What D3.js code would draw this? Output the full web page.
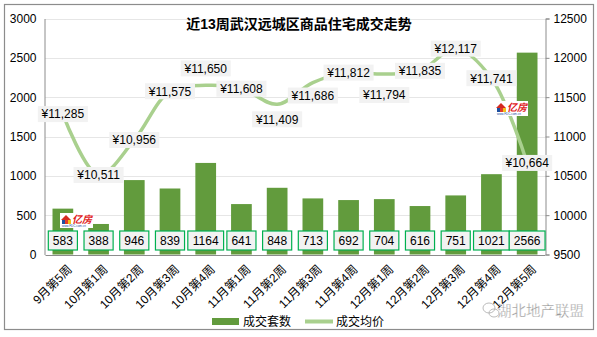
<!DOCTYPE html>
<html>
<head>
<meta charset="utf-8">
<script src="https://cdn.jsdelivr.net/npm/d3@7/dist/d3.min.js"></script>
<style>
  html, body { margin: 0; padding: 0; background: #fff; }
  svg text { font-family: "Liberation Sans", Arial, "Noto Sans CJK SC", sans-serif; }
</style>
</head>
<body>
<svg id="chart" width="597" height="337"></svg>
<script>
// Weekly transactions, Wuhan outer districts
const weeks = ["9月第5周", "10月第1周", "10月第2周", "10月第3周", "10月第4周", "11月第1周", "11月第2周",
               "11月第3周", "11月第4周", "12月第1周", "12月第2周", "12月第3周", "12月第4周", "12月第5周"];
const units = [583, 388, 946, 839, 1164, 641, 848, 713, 692, 704, 616, 751, 1021, 2566];
const prices = [11285, 10511, 10956, 11575, 11650, 11608, 11409, 11686, 11812, 11794, 11835, 12117, 11741, 10664];
const unitTicks = [0, 500, 1000, 1500, 2000, 2500, 3000];
const priceTicks = [9500, 10000, 10500, 11000, 11500, 12000, 12500];
// price label placement: shift in px relative to the point
const priceLabelShift = [0, 0, 0, 0, -17, 0, 15, 13, 0, 21, 0, 0, 0, 0];

const barColor = "#629b3d";
const lineColor = "#a9d08e";
const svg = d3.select("#chart");

// outer frame
svg.append("rect").attr("x", 4.5).attr("y", 4.5).attr("width", 589).attr("height", 325)
  .attr("fill", "#fff").attr("stroke", "#8c8c8c").attr("stroke-width", 1.2);

const plotLeft = 45, plotRight = 545, plotTop = 18.5, plotBottom = 254.5;
const x = d3.scaleBand().domain(weeks).range([plotLeft, plotRight]).paddingInner(0.42).paddingOuter(0.21);
const yL = d3.scaleLinear().domain([0, 3000]).range([plotBottom, plotTop]);
const yR = d3.scaleLinear().domain([9500, 12500]).range([plotBottom, plotTop]);
const cx = d => x(d) + x.bandwidth() / 2;

// gridlines
svg.append("g").selectAll("line").data(unitTicks.slice(1)).join("line")
  .attr("x1", plotLeft).attr("x2", plotRight)
  .attr("y1", d => Math.round(yL(d)) + 0.5).attr("y2", d => Math.round(yL(d)) + 0.5)
  .attr("stroke", "#e6e6e6").attr("stroke-width", 1);

// bars
svg.append("g").selectAll("rect").data(units).join("rect")
  .attr("x", (d, i) => x(weeks[i]))
  .attr("width", x.bandwidth())
  .attr("y", d => yL(d))
  .attr("height", d => yL(0) - yL(d))
  .attr("fill", barColor);

// left axis
const gL = svg.append("g").attr("transform", `translate(${plotLeft - 0.5},0)`)
  .call(d3.axisLeft(yL).tickValues(unitTicks).tickSize(0).tickPadding(8).tickFormat(d3.format("d")));
gL.select(".domain").attr("stroke", "#8c8c8c");
gL.selectAll("text").attr("font-size", 12).attr("fill", "#000");

// right axis
const gR = svg.append("g").attr("transform", `translate(${plotRight + 0.5},0)`)
  .call(d3.axisRight(yR).tickValues(priceTicks).tickSize(4).tickPadding(4).tickFormat(d3.format("d")));
gR.select(".domain").attr("stroke", "#8c8c8c");
gR.selectAll(".tick line").attr("stroke", "#8c8c8c");
gR.selectAll("text").attr("font-size", 12).attr("fill", "#000");

// bottom axis
const gB = svg.append("g").attr("transform", `translate(0,${plotBottom + 0.5})`)
  .call(d3.axisBottom(x).tickSize(0).tickPadding(0));
gB.select(".domain").attr("stroke", "#8c8c8c");
gB.selectAll("text")
  .attr("font-size", 12).attr("fill", "#000")
  .attr("text-anchor", "end")
  .attr("transform", "translate(7,12) rotate(-45)")
  .attr("dy", "0.35em");

// price line (smoothed)
const line = d3.line()
  .x((d, i) => cx(weeks[i]))
  .y(d => yR(d))
  .curve(d3.curveCatmullRom.alpha(0.5));
svg.append("path").datum(prices)
  .attr("d", line)
  .attr("fill", "none").attr("stroke", lineColor).attr("stroke-width", 3.5)
  .attr("stroke-linejoin", "round").attr("stroke-linecap", "round");

// unit labels (boxed)
const fmt = d3.format(",");
const unitLab = svg.append("g").selectAll("g").data(units).join("g")
  .attr("transform", (d, i) => `translate(${cx(weeks[i])},240.5)`);
unitLab.append("rect")
  .attr("x", d => -(String(d).length * 6.7 + 9) / 2)
  .attr("width", d => String(d).length * 6.7 + 9)
  .attr("y", -9.5).attr("height", 19)
  .attr("fill", "#f2f2f2").attr("stroke", "#00b050").attr("stroke-width", 1.2);
unitLab.append("text").text(d => d)
  .attr("text-anchor", "middle").attr("dy", "0.36em")
  .attr("font-size", 12).attr("fill", "#000");

// price labels
const priceLab = svg.append("g").selectAll("g").data(prices).join("g")
  .attr("transform", (d, i) => `translate(${cx(weeks[i])},${yR(d) + priceLabelShift[i]})`);
priceLab.append("rect")
  .attr("x", -25).attr("width", 50).attr("y", -8).attr("height", 16)
  .attr("fill", "#f2f2f2");
priceLab.append("text").text(d => "¥" + fmt(d))
  .attr("text-anchor", "middle").attr("dy", "0.36em")
  .attr("font-size", 12).attr("fill", "#000");

// title
svg.append("text").text("近13周武汉远城区商品住宅成交走势")
  .attr("x", 299).attr("y", 29).attr("text-anchor", "middle")
  .attr("font-size", 14).attr("font-weight", "bold").attr("fill", "#000");

// legend
const lg = svg.append("g");
lg.append("rect").attr("x", 212).attr("y", 318).attr("width", 27).attr("height", 7).attr("fill", barColor);
lg.append("text").text("成交套数").attr("x", 243).attr("y", 321.5).attr("dy", "0.36em")
  .attr("font-size", 12).attr("fill", "#000");
lg.append("line").attr("x1", 305).attr("x2", 333).attr("y1", 321.5).attr("y2", 321.5)
  .attr("stroke", lineColor).attr("stroke-width", 4);
lg.append("text").text("成交均价").attr("x", 336).attr("y", 321.5).attr("dy", "0.36em")
  .attr("font-size", 12).attr("fill", "#000");

// small site badges
function badge(gx, gy) {
  const g = svg.append("g").attr("transform", `translate(${gx},${gy})`);
  g.append("rect").attr("width", 33).attr("height", 15).attr("fill", "#fff");
  g.append("path").attr("d", "M1,7 L6,2 L11,7 Z").attr("fill", "#d42a1f");
  g.append("rect").attr("x", 2).attr("y", 7).attr("width", 3).attr("height", 4).attr("fill", "#1d4fa0");
  g.append("rect").attr("x", 5).attr("y", 7).attr("width", 3).attr("height", 4).attr("fill", "#e23a2a");
  g.append("rect").attr("x", 8).attr("y", 7).attr("width", 3).attr("height", 4).attr("fill", "#f2c21a");
  g.append("text").text("亿房").attr("x", 12).attr("y", 10)
    .attr("font-size", 10).attr("font-weight", "bold").attr("font-style", "italic").attr("fill", "#e0201a");
  g.append("text").text("www.FDC.com.cn").attr("x", 2).attr("y", 14)
    .attr("font-size", 3).attr("fill", "#1d4fa0");
}
badge(60, 213);
badge(495, 101);

// account mark
const wm = svg.append("g");
wm.append("ellipse").attr("cx", 489).attr("cy", 308).attr("rx", 6).attr("ry", 5)
  .attr("fill", "none").attr("stroke", "#aaa").attr("stroke-width", 0.8);
wm.append("ellipse").attr("cx", 494).attr("cy", 313).attr("rx", 5).attr("ry", 4)
  .attr("fill", "none").attr("stroke", "#aaa").attr("stroke-width", 0.8);
wm.append("text").text("湖北地产联盟").attr("x", 497).attr("y", 316)
  .attr("font-size", 14.5).attr("fill", "#9a9a9a").attr("stroke", "#fff").attr("stroke-width", 0.3);
</script>
</body>
</html>
